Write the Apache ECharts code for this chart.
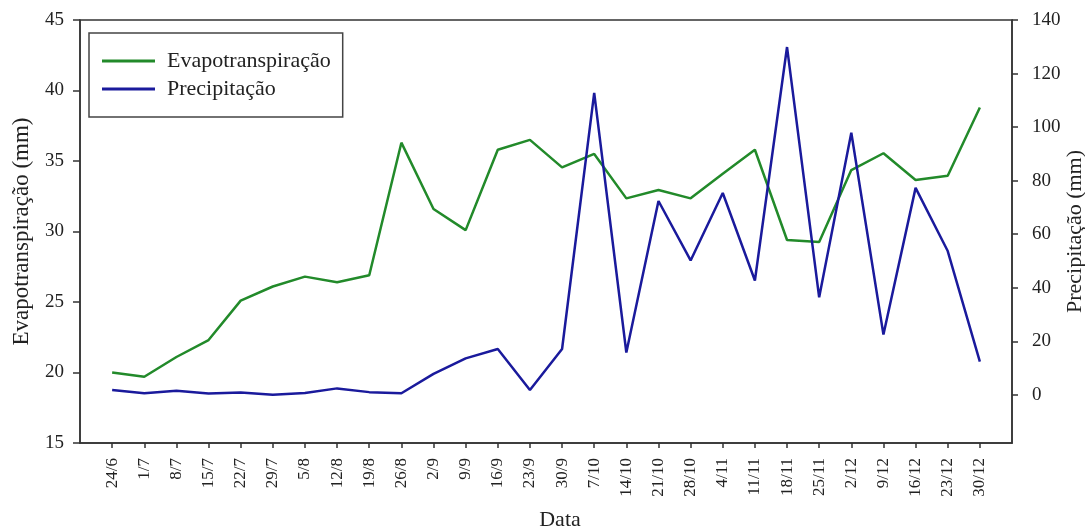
<!DOCTYPE html>
<html>
<head>
<meta charset="utf-8">
<script src="https://cdn.jsdelivr.net/npm/echarts@6/dist/echarts.min.js"></script>
<style>
html,body{margin:0;padding:0;background:#fff;}
#c{width:1085px;height:531px;}
</style>
</head>
<body>
<div id="c"></div>
<script>
const dates = ['24/6','1/7','8/7','15/7','22/7','29/7','5/8','12/8','19/8','26/8','2/9','9/9','16/9','23/9','30/9','7/10','14/10','21/10','28/10','4/11','11/11','18/11','25/11','2/12','9/12','16/12','23/12','30/12'];
const evapo = [20.0,19.7,21.1,22.3,25.1,26.1,26.8,26.4,26.9,36.3,31.6,30.1,35.8,36.5,34.55,35.5,32.35,32.94,32.35,34.1,35.8,29.4,29.26,34.36,35.55,33.65,33.96,38.8];
const precip = [1.8,0.6,1.5,0.5,0.9,0.0,0.7,2.4,1.0,0.6,7.8,13.6,17.1,1.8,17.1,112.8,15.8,72.4,50.2,75.4,42.7,129.9,36.4,97.9,22.5,77.3,53.7,12.4];
const leftTicks = [15,20,25,30,35,40,45];
const rightTicks = [0,20,40,60,80,100,120,140];

const FONT = '"Liberation Serif","DejaVu Serif",serif';
const axisCol = '#333';
const cats = [''].concat(dates, ['']);

const chart = echarts.init(document.getElementById('c'));
chart.setOption({
  animation: false,
  textStyle: {fontFamily: FONT},
  grid: {left: 80, right: 73, top: 20, bottom: 88, containLabel: false, outerBoundsMode: 'none', show: true, borderColor: axisCol, borderWidth: 1.5, backgroundColor: 'transparent'},
  legend: {
    orient: 'vertical', left: 89, top: 33,
    padding: [17, 12, 17, 13],
    borderColor: '#444', borderWidth: 1.5,
    itemWidth: 53, itemHeight: 3, itemGap: 6, icon: 'rect',
    textStyle: {fontFamily: FONT, fontSize: 22, color: '#222', padding: [0, 0, 0, 7], lineHeight: 22},
    data: ['Evapotranspiração', 'Precipitação']
  },
  xAxis: {
    type: 'category', data: cats, boundaryGap: false,
    name: 'Data', nameLocation: 'middle', nameGap: 66,
    nameTextStyle: {fontFamily: FONT, fontSize: 22, color: '#222', padding: [0, 0, 0, 28]},
    axisLine: {onZero: false, lineStyle: {color: axisCol, width: 1.5}},
    axisTick: {length: 5, lineStyle: {color: axisCol, width: 1.5}, interval: function (i, v) { return v !== ''; }},
    axisLabel: {interval: 0, rotate: 90, margin: 15, fontFamily: FONT, fontSize: 17, color: '#222'},
    splitLine: {show: false}
  },
  yAxis: [{
    type: 'value', min: 15, max: 45, interval: 5, position: 'left',
    name: 'Evapotranspiração (mm)', nameLocation: 'middle', nameGap: 47, nameMoveOverlap: false,
    nameTextStyle: {fontFamily: FONT, fontSize: 23, color: '#222'},
    axisLine: {show: true, onZero: false, lineStyle: {color: axisCol, width: 1.5}},
    axisTick: {show: true, length: 7, lineStyle: {color: axisCol, width: 1.5}},
    axisLabel: {margin: 16, fontFamily: FONT, fontSize: 19, color: '#222', customValues: leftTicks},
    splitLine: {show: false}
  }, {
    type: 'value', min: -18, max: 140, position: 'right',
    name: 'Precipitação (mm)', nameLocation: 'middle', nameGap: 52, nameMoveOverlap: false,
    nameTextStyle: {fontFamily: FONT, fontSize: 22, color: '#222'},
    axisLine: {show: true, onZero: false, lineStyle: {color: axisCol, width: 1.5}},
    axisTick: {show: true, length: 6, lineStyle: {color: axisCol, width: 1.5}, customValues: rightTicks},
    axisLabel: {margin: 20, fontFamily: FONT, fontSize: 19, color: '#222', customValues: rightTicks},
    splitLine: {show: false}
  }],
  series: [{
    name: 'Evapotranspiração', type: 'line', yAxisIndex: 0,
    data: dates.map((d, i) => [d, evapo[i]]),
    symbol: 'none', lineStyle: {color: '#228a2a', width: 2.5}, itemStyle: {color: '#228a2a'}
  }, {
    name: 'Precipitação', type: 'line', yAxisIndex: 1,
    data: dates.map((d, i) => [d, precip[i]]),
    symbol: 'none', lineStyle: {color: '#1a1a9c', width: 2.5}, itemStyle: {color: '#1a1a9c'}
  }]
});
</script>
</body>
</html>
